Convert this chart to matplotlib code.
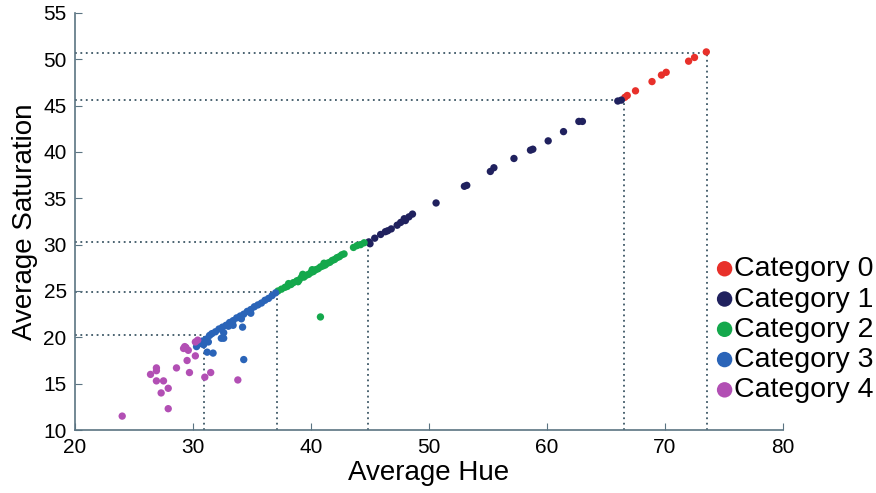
import matplotlib
matplotlib.use('Agg')
from matplotlib import pyplot as plt

plt.rcParams['font.family'] = ['Liberation Sans', 'DejaVu Sans']

# Category 0 (red)
hue_0 = [66.8, 66.6, 67.5, 68.9, 69.7, 70.1, 72.0, 72.5, 73.5]
sat_0 = [46.1, 45.9, 46.6, 47.6, 48.3, 48.6, 49.8, 50.2, 50.8]

# Category 1 (navy)
hue_1 = [44.9, 45.0, 45.4, 45.9, 46.3, 46.5, 46.8, 47.3, 47.6, 47.9, 48.0, 48.3, 48.6,
         50.6, 53.2, 53.0, 55.2, 55.5, 57.2, 58.6, 58.8, 60.1, 61.4, 62.7, 63.0, 66.0, 66.3]
sat_1 = [30.3, 30.1, 30.7, 31.1, 31.4, 31.5, 31.7, 32.1, 32.4, 32.8, 32.6, 33.0, 33.3,
         34.5, 36.4, 36.3, 37.9, 38.3, 39.3, 40.2, 40.3, 41.2, 42.2, 43.3, 43.3, 45.5, 45.6]

# Category 2 (green)
hue_2 = [37.2, 37.5, 37.8, 38.0, 38.1, 38.3, 38.5, 38.8, 38.9, 39.0, 39.2, 39.3, 39.4,
         39.6, 39.8, 40.0, 40.1, 40.2, 40.4, 40.6, 40.8, 41.0, 41.1, 41.2, 41.4, 41.6,
         41.8, 42.0, 42.2, 42.4, 42.6, 42.8, 43.6, 43.9, 44.2, 44.5, 40.8]
sat_2 = [25.0, 25.2, 25.4, 25.5, 25.8, 25.7, 25.9, 26.1, 26.0, 26.2, 26.5, 26.8, 26.5,
         26.7, 26.8, 27.0, 27.3, 27.1, 27.3, 27.4, 27.6, 27.7, 28.0, 27.8, 28.0, 28.1,
         28.3, 28.4, 28.6, 28.7, 28.9, 29.0, 29.7, 29.9, 30.0, 30.2, 22.2]

# Category 3 (blue)
hue_3 = [30.5, 30.8, 31.1, 31.4, 31.6, 31.9, 32.2, 32.5, 32.8, 33.1, 33.4, 33.7, 34.0,
         34.3, 34.6, 34.9, 35.2, 35.5, 35.8, 36.1, 36.4, 36.7, 37.0,
         30.3, 30.9, 31.3, 32.6, 33.0, 33.4, 34.2, 34.1, 32.4, 34.9,
         31.2, 31.7, 34.3, 32.6]
sat_3 = [19.3, 19.6, 19.8, 20.2, 20.4, 20.6, 20.9, 21.1, 21.3, 21.6, 21.8, 22.1, 22.3,
         22.5, 22.8, 23.0, 23.3, 23.5, 23.7, 24.0, 24.2, 24.5, 24.8,
         19.0, 19.2, 19.5, 20.5, 21.2, 21.3, 21.1, 22.0, 19.9, 22.6,
         18.4, 18.3, 17.6, 19.9]

# Category 4 (magenta)
hue_4 = [24.0, 27.9, 27.3, 27.9, 26.9, 27.5, 26.4, 26.9, 26.9, 28.6, 29.7, 29.5, 30.2,
         29.2, 29.4, 29.6, 29.3, 30.4, 30.2, 31.5, 33.8, 31.0]
sat_4 = [11.5, 12.3, 14.0, 14.5, 15.3, 15.3, 16.0, 16.4, 16.7, 16.7, 16.2, 17.5, 18.0,
         18.8, 18.9, 18.6, 19.0, 19.7, 19.5, 16.2, 15.4, 15.7]

# category boundaries (dotted guide lines)
bound_hue = [30.9, 37.1, 44.8, 66.5, 73.6]
bound_sat = [20.2, 24.9, 30.3, 45.6, 50.7]

labels = ['Category 0', 'Category 1', 'Category 2', 'Category 3', 'Category 4']
colors = ['#e8302a', '#20215e', '#14a84c', '#2a64b8', '#b24fb4']

fig = plt.figure(figsize=(8.76, 4.93), dpi=100)
ax = fig.add_axes([75 / 876, 1 - 430 / 493, 708 / 876, 417 / 493])

guide = '#3d5766'
for hx, sy in zip(bound_hue, bound_sat):
    ax.plot([20, hx], [sy, sy], linestyle=(0, (1, 2)), color=guide, lw=1.3, zorder=1)
    ax.plot([hx, hx], [10, sy], linestyle=(0, (1, 2)), color=guide, lw=1.3, zorder=1)

series = [(hue_0, sat_0), (hue_1, sat_1), (hue_2, sat_2), (hue_3, sat_3), (hue_4, sat_4)]
for (h, s), lab, c in zip(series, labels, colors):
    ax.scatter(h, s, s=28, color=c, edgecolors='none', label=lab, zorder=3)

ax.set_xlim(20, 80)
ax.set_ylim(10, 55)
ax.set_xticks(range(20, 81, 10))
ax.set_yticks(range(10, 56, 5))
ax.spines['top'].set_visible(False)
ax.spines['right'].set_visible(False)
for sp in ['left', 'bottom']:
    ax.spines[sp].set_color('#5b7482')
    ax.spines[sp].set_linewidth(1.2)
ax.tick_params(direction='in', length=5, color='#5b7482', labelsize=15, pad=6)

ax.set_xlabel('Average Hue', fontsize=20, labelpad=2)
ax.set_ylabel('Average Saturation', fontsize=20, labelpad=4)

fig.legend(loc='upper left', bbox_to_anchor=(694 / 876, 1 - 242 / 493), frameon=False,
           fontsize=20.5, markerscale=2.1, handletextpad=-0.25, labelspacing=0.15,
           borderpad=0, handlelength=1.15)

fig.savefig('out.png', dpi=100)
